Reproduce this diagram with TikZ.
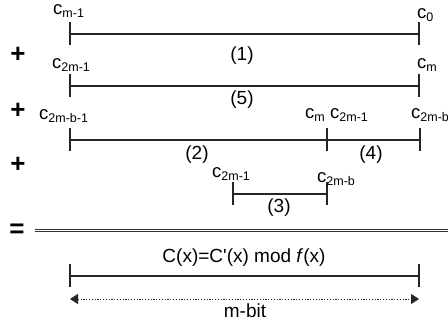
\documentclass[tikz,border=0pt]{standalone}
\usepackage{fontspec}
\setmainfont{Liberation Sans}
\usetikzlibrary{arrows.meta}
\newcommand\clab[1]{c\raisebox{-3.5pt}{\fontsize{12.5}{12.5}\selectfont #1}}
\begin{document}
\begin{tikzpicture}[x=1pt,y=-1pt,
  seg/.style={draw=black!85, line width=1.1pt},
  lab/.style={anchor=base west, inner sep=0pt, font=\fontsize{18.5}{18.5}\selectfont},
  num/.style={inner sep=0pt, font=\fontsize{19}{19}\selectfont},
  op/.style={inner sep=0pt, font=\fontsize{26}{26}\selectfont\bfseries}]
\useasboundingbox (0,0) rectangle (448,324);
\newcommand\tick[1]{\draw[seg] ([yshift=12pt]#1) -- ([yshift=-11pt]#1);}
% row 1
\coordinate (a1) at (70,34); \coordinate (b1) at (419,34);
\draw[seg] (a1) -- (b1); \tick{a1} \tick{b1}
\node[lab] (l1) at (53,14) {\clab{m-1}};
\node[lab] (l2) at (417,18) {\clab{0}};
\node[num] (n1) at (242,56) {(1)};
\node[op] (p1) at (18,55) {+};
% row 2
\coordinate (a2) at (70,86); \coordinate (b2) at (419,86);
\draw[seg] (a2) -- (b2); \tick{a2} \tick{b2}
\node[lab] (l3) at (52,68) {\clab{2m-1}};
\node[lab] (l4) at (417,68) {\clab{m}};
\node[num] (n5) at (242,100) {(5)};
\node[op] (p2) at (18,111) {+};
% row 3
\coordinate (a3) at (70,140); \coordinate (m3) at (327,140); \coordinate (b3) at (420,140);
\draw[seg] (a3) -- (b3); \tick{a3} \tick{m3} \tick{b3}
\node[lab] (l5) at (39,119) {\clab{2m-b-1}};
\node[lab] (l6) at (305,118) {\clab{m}};
\node[lab] (l7) at (330,118) {\clab{2m-1}};
\node[lab] (l8) at (411,118) {\clab{2m-b}};
\node[num] (n2) at (197,155) {(2)};
\node[num] (n4) at (371,155) {(4)};
\node[op] (p3) at (18,165) {+};
% row 4
\coordinate (a4) at (233,194); \coordinate (b4) at (327,194);
\draw[seg] (a4) -- (b4); \tick{a4} \tick{b4}
\node[lab] (l9) at (212,177) {\clab{2m-1}};
\node[lab] (l10) at (317,182) {\clab{2m-b}};
\node[num] (n3) at (279,208) {(3)};
% equals
\node[op] (eq) at (17,231) {=};
\coordinate (d1) at (35,230.5); \coordinate (d2) at (448,230.5);
\draw[draw=black!80, line width=1pt, double=white, double distance=1.8pt] (d1) -- (d2);
% result
\node[num] (res) at (244,258) {C(x)=C\textquotesingle(x) mod \textit{f}(x)};
\coordinate (a5) at (70,276); \coordinate (b5) at (419,276);
\draw[seg] (a5) -- (b5); \tick{a5} \tick{b5}
\coordinate (e1) at (70,299); \coordinate (e2) at (419,299);
\draw[draw=black!85, line width=1pt, dash pattern=on 1.2pt off 1.6pt,
  {Triangle[width=10pt,length=8pt]}-{Triangle[width=10pt,length=8pt]}] (e1) -- (e2);
\node[num] (mb) at (245,311) {m-bit};
\end{tikzpicture}
\end{document}
